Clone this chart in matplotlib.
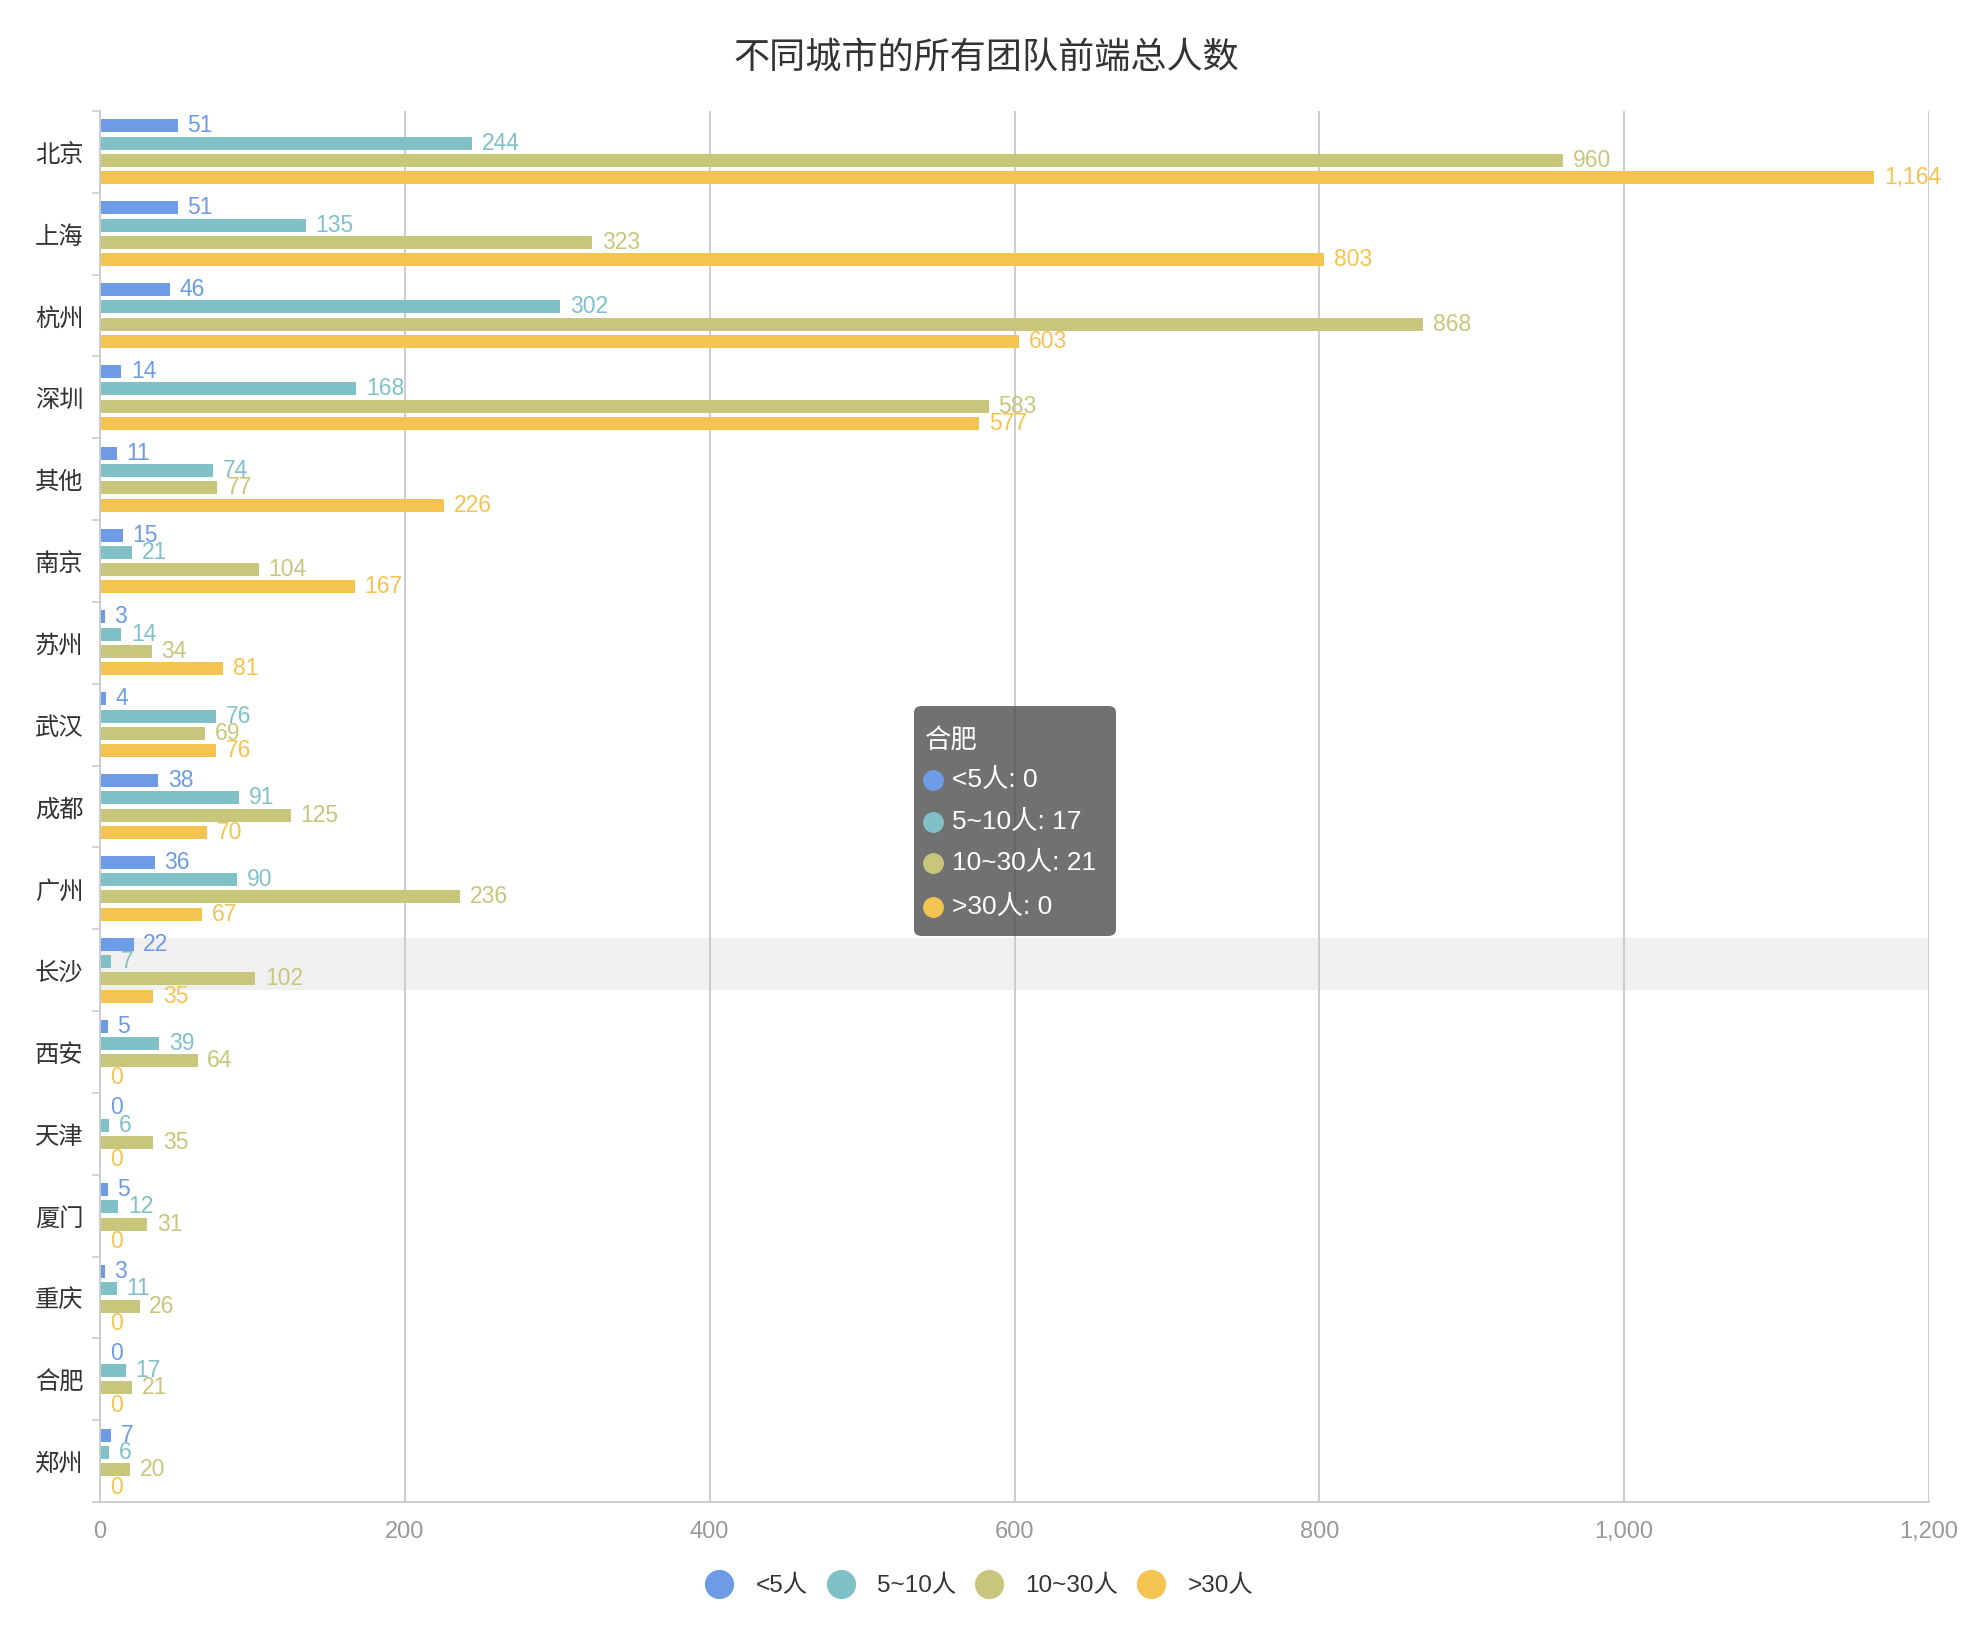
import matplotlib
matplotlib.use("Agg")
import matplotlib.pyplot as plt
from matplotlib.lines import Line2D
from matplotlib.patches import FancyBboxPatch
from matplotlib.ticker import FuncFormatter, MultipleLocator
import numpy as np

# latin glyphs from Liberation Sans, CJK falls back to Noto
plt.rcParams["font.family"] = ["Liberation Sans", "Noto Sans CJK SC", "DejaVu Sans"]
cjk = ["Noto Sans CJK SC", "DejaVu Sans"]

title = "不同城市的所有团队前端总人数"
cities = ["北京", "上海", "杭州", "深圳", "其他", "南京", "苏州", "武汉", "成都",
          "广州", "长沙", "西安", "天津", "厦门", "重庆", "合肥", "郑州"]
series_names = ["<5人", "5~10人", "10~30人", ">30人"]
lt5 = [51, 51, 46, 14, 11, 15, 3, 4, 38, 36, 22, 5, 0, 5, 3, 0, 7]
s5_10 = [244, 135, 302, 168, 74, 21, 14, 76, 91, 90, 7, 39, 6, 12, 11, 17, 6]
s10_30 = [960, 323, 868, 583, 77, 104, 34, 69, 125, 236, 102, 64, 35, 31, 26, 21, 20]
gt30 = [1164, 803, 603, 577, 226, 167, 81, 76, 70, 67, 35, 0, 0, 0, 0, 0, 0]
series = [lt5, s5_10, s10_30, gt30]
colors = ["#6e9be6", "#80c1c8", "#c8c67c", "#f5c350"]
x_ticks = [0, 200, 400, 600, 800, 1000, 1200]
hover_row = "长沙"      # shaded band
tooltip_city = "合肥"   # tooltip content

W, H = 1972, 1644
fig = plt.figure(figsize=(W / 100, H / 100), dpi=100)
ax = fig.add_axes([100 / W, 1 - 1502 / H, 1829 / W, 1391 / H])

y = np.arange(len(cities))
pitch = 0.2115
bar_h = 0.159

# hover highlight
hi = cities.index(hover_row)
ax.axhspan(hi - 0.396, hi + 0.243, color="#f0f0f0", zorder=0, lw=0)

for k, (vals, c) in enumerate(zip(series, colors)):
    pos = y + (k - 1.5) * pitch
    bars = ax.barh(pos, vals, height=bar_h, color=c, zorder=2, label=series_names[k])
    ax.bar_label(bars, labels=[f"{v:,}" for v in vals], padding=7, color=c,
                 fontsize=16.5, zorder=3)

ax.set_xlim(0, 1200)
ax.set_ylim(len(cities) - 0.5, -0.5)
ax.set_xticks(x_ticks)
ax.xaxis.set_major_formatter(FuncFormatter(lambda v, p: f"{int(v):,}"))
ax.tick_params(axis="x", length=0, pad=14, labelsize=17, labelcolor="#999999")
ax.set_yticks(y)
ax.set_yticklabels(cities, family=cjk)
ax.tick_params(axis="y", length=0, pad=12, labelsize=17.5, labelcolor="#333333")
ax.yaxis.set_minor_locator(MultipleLocator(1, offset=0.5))
ax.tick_params(axis="y", which="minor", length=6, color="#cccccc", width=1.2)
ax.grid(axis="x", color="#cccccc", lw=1.4, zorder=1)
ax.set_axisbelow(True)
for s in ["top", "right"]:
    ax.spines[s].set_visible(False)
for s in ["left", "bottom"]:
    ax.spines[s].set_color("#cccccc")
    ax.spines[s].set_linewidth(1.4)

fig.text(0.5, 1 - 59 / H, title, ha="center", va="center", fontsize=26,
         color="#333333", family=cjk)

handles = [Line2D([], [], ls="", marker="o", markersize=20, color=c) for c in colors]
fig.legend(handles, series_names, loc="center", bbox_to_anchor=(0.497, 1 - 1586 / H),
           ncol=4, frameon=False, fontsize=17.5, handlelength=1.0, handletextpad=1.0,
           columnspacing=0.85, labelcolor="#333333")

# tooltip
ti = cities.index(tooltip_city)
bx0, by0, bx1, by1 = 914, 706, 1116, 936
box = FancyBboxPatch((bx0 / W, 1 - by1 / H), (bx1 - bx0) / W, (by1 - by0) / H,
                     boxstyle="round,pad=0,rounding_size=0.004", transform=fig.transFigure,
                     facecolor=(0.3, 0.3, 0.3), alpha=0.8, edgecolor="none", zorder=10)
fig.add_artist(box)
fig.text(925 / W, 1 - 740 / H, tooltip_city, color="white", fontsize=19,
         va="center", ha="left", zorder=11, family=cjk)
row_y = [780, 822, 863, 907]
for k in range(4):
    fig.add_artist(Line2D([933 / W], [1 - row_y[k] / H], transform=fig.transFigure,
                          marker="o", markersize=14, color=colors[k], ls="", zorder=11))
    fig.text(952 / W, 1 - row_y[k] / H, f"{series_names[k]}: {series[k][ti]}",
             color="white", fontsize=19, va="center", ha="left", zorder=11)

fig.savefig("out.png", dpi=100)
